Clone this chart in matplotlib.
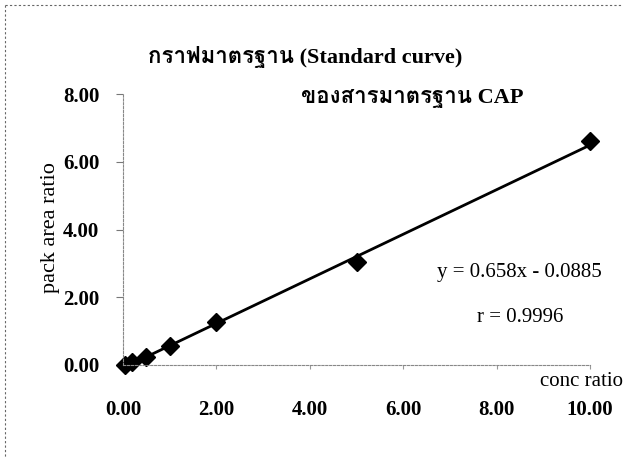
import matplotlib
matplotlib.use("Agg")
import matplotlib.pyplot as plt
from matplotlib import font_manager
from matplotlib.ft2font import FT2Font
from matplotlib.lines import Line2D
import numpy as np

# data
conc_ratio = [0.05, 0.2, 0.5, 1.0, 2.0, 5.0, 10.0]
peak_area_ratio = [0.0, 0.08, 0.24, 0.55, 1.28, 3.05, 6.6]
slope = 0.658
intercept = -0.0885
r_value = 0.9996
x_ticks = [0, 2, 4, 6, 8, 10]
y_ticks = [0, 2, 4, 6, 8]

title1 = "กราฟมาตรฐาน (Standard curve)"
title2 = "ของสารมาตรฐาน CAP"


def thai_family():
    # find some installed font that actually has Thai glyphs
    for f in font_manager.fontManager.ttflist:
        try:
            if ord("ก") in FT2Font(f.fname).get_charmap():
                return f.name
        except Exception:
            pass
    return None


th = thai_family()
title_fam = ["Liberation Serif"] + ([th] if th else []) + ["DejaVu Sans"]

fig = plt.figure(figsize=(6.26, 4.57), dpi=100)
ax = fig.add_axes([123 / 626, 1 - 365 / 457, (590 - 123) / 626, (365 - 94) / 457])

xs = np.array([min(conc_ratio), max(conc_ratio)])
ax.plot(xs, slope * xs + intercept, color="black", lw=2, clip_on=False)
ax.plot(conc_ratio, peak_area_ratio, "D", color="black", markersize=9, clip_on=False)

ax.set_xlim(0, 10)
ax.set_ylim(0, 8)
ax.set_xticks(x_ticks)
ax.set_yticks(y_ticks)
ax.set_xticklabels(["%.2f" % v for v in x_ticks], family="Liberation Serif",
                   weight="bold", fontsize=15)
ax.set_yticklabels(["%.2f" % v for v in y_ticks], family="Liberation Serif",
                   weight="bold", fontsize=15)
ax.tick_params(axis="y", direction="out", length=5, width=0.8, color="#777777", pad=12)
ax.tick_params(axis="x", direction="out", length=3, width=0.8, color="#999999", pad=22)

for s in ["top", "right"]:
    ax.spines[s].set_visible(False)
for s in ["left", "bottom"]:
    ax.spines[s].set_linestyle((0, (2, 1.5)))
    ax.spines[s].set_color("#888888")
    ax.spines[s].set_linewidth(0.8)

fig.text(50 / 626, 1 - 228 / 457, "pack area ratio", rotation=90, ha="center",
         va="center", family="Liberation Serif", fontsize=16)
fig.text(582 / 626, 1 - 382 / 457, "conc ratio", ha="center", va="center",
         family="Liberation Serif", fontsize=15)
fig.text(305 / 626, 1 - 57 / 457, title1, ha="center", va="center",
         family=title_fam, weight="bold", fontsize=16)
fig.text(412 / 626, 1 - 98 / 457, title2, ha="center", va="center",
         family=title_fam, weight="bold", fontsize=16)
fig.text(519 / 626, 1 - 272 / 457, "y = 0.658x - 0.0885", ha="center", va="center",
         family="Liberation Serif", fontsize=15)
fig.text(520 / 626, 1 - 318 / 457, "r = %.4f" % r_value, ha="center", va="center",
         family="Liberation Serif", fontsize=15)

# dotted frame of the scanned chart (top and left edges only visible)
fig.add_artist(Line2D([5 / 626, 622 / 626], [1 - 5 / 457, 1 - 5 / 457],
                      transform=fig.transFigure, color="#666666", lw=0.8,
                      linestyle=(0, (2, 2))))
fig.add_artist(Line2D([5 / 626, 5 / 626], [1 - 5 / 457, 0],
                      transform=fig.transFigure, color="#666666", lw=0.8,
                      linestyle=(0, (2, 2))))

fig.savefig("out.png", dpi=100)
